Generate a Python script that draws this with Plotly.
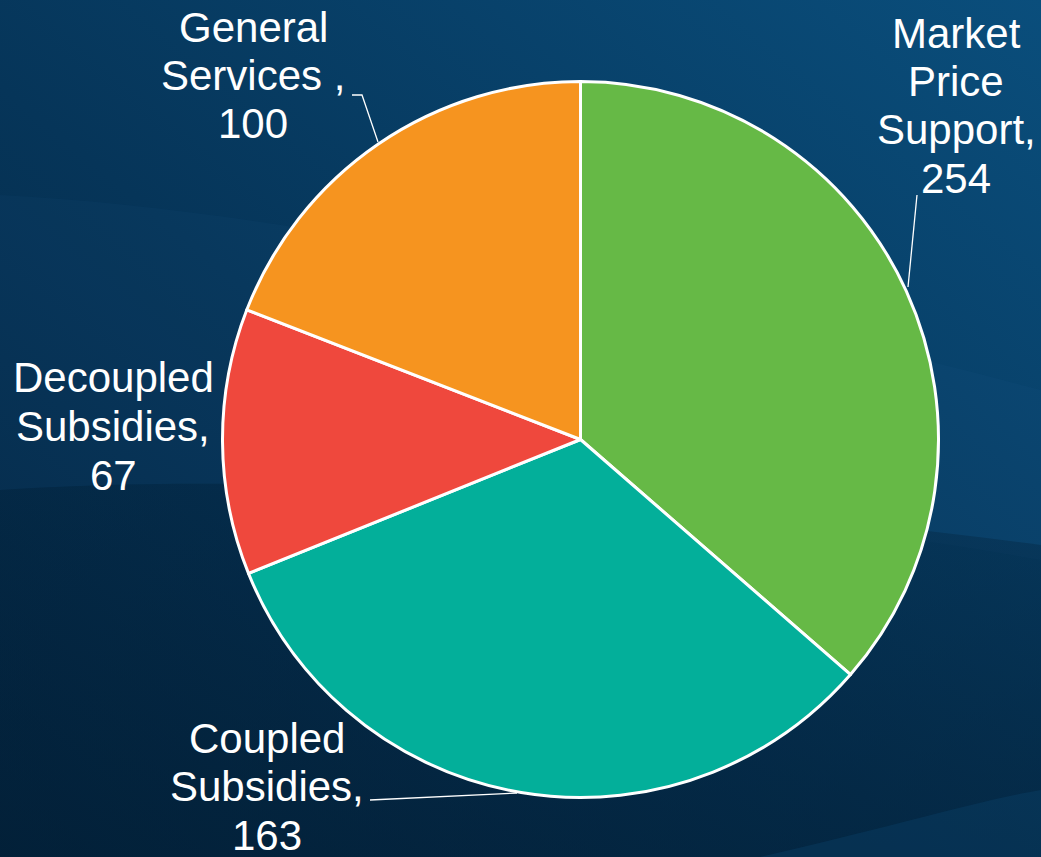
import base64
import plotly.graph_objects as go

# ---- data ----
categories = ["Market Price Support", "Coupled Subsidies", "Decoupled Subsidies", "General Services"]
label_values = [254, 163, 67, 100]            # numbers printed on the labels
slice_shares = [36.4, 32.5, 12.0, 19.1]       # angular share of each slice as drawn (%)
label_lines = [
    ["Market", "Price", "Support,", "254"],
    ["Coupled", "Subsidies,", "163"],
    ["Decoupled", "Subsidies,", "67"],
    ["General", "Services ,", "100"],
]
colors = ["#66B946", "#03AF9A", "#EF483D", "#F6941F"]

W, H = 1041, 857

def px(x, y):
    return x / W, 1 - y / H

# ---- background (SVG gradient as a layout image) ----
svg = f'''<svg xmlns="http://www.w3.org/2000/svg" width="{W}" height="{H}" viewBox="0 0 {W} {H}">
<defs>
<linearGradient id="g" x1="0" y1="1" x2="1" y2="0">
<stop offset="0" stop-color="#03243f"/>
<stop offset="0.45" stop-color="#063559"/>
<stop offset="1" stop-color="#0a4e7c"/>
</linearGradient>
<linearGradient id="d" x1="0" y1="0" x2="0" y2="1">
<stop offset="0" stop-color="#021d33" stop-opacity="0.25"/>
<stop offset="1" stop-color="#021d33" stop-opacity="0.55"/>
</linearGradient>
</defs>
<rect width="{W}" height="{H}" fill="url(#g)"/>
<path d="M0,195 C300,210 700,300 1041,390 L1041,560 C700,500 300,470 0,490 Z" fill="#2a6a98" fill-opacity="0.07"/>
<path d="M0,490 C300,470 700,500 1041,545 L1041,{H} L0,{H} Z" fill="url(#d)"/>
<path d="M760,{H} C880,830 980,800 1041,790 L1041,{H} Z" fill="#0d4a74" fill-opacity="0.3"/>
</svg>'''
src = "data:image/svg+xml;base64," + base64.b64encode(svg.encode()).decode()

# ---- pie geometry ----
cx, cy, r = 580.5, 439.5, 358
fig = go.Figure(go.Pie(
    labels=categories,
    values=slice_shares,
    sort=False,
    direction="clockwise",
    rotation=0,
    marker=dict(colors=colors, line=dict(color="white", width=3)),
    textinfo="none",
    hoverinfo="label",
    customdata=label_values,
    domain=dict(x=[(cx - r) / W, (cx + r) / W], y=[(H - cy - r) / H, (H - cy + r) / H]),
))

# label positions (centre x, first line centre y)
label_pos = [(956, 33), (267, 738), (113, 378), (253, 27)]
line_gap = 48.5
annotations = []
for lines, (lx, ly) in zip(label_lines, label_pos):
    for i, t in enumerate(lines):
        x, y = px(lx, ly + i * line_gap)
        annotations.append(dict(
            x=x, y=y, xref="paper", yref="paper", text=t, showarrow=False,
            xanchor="center", yanchor="middle",
            font=dict(family="Arial, Liberation Sans, sans-serif", size=42, color="white"),
        ))

leaders = [
    [(917, 195), (908, 287)],
    [(370, 800), (517, 793)],
    [(352, 95), (362, 95), (378, 142)],
]
shapes = []
for pts in leaders:
    path = "M" + " L".join(f"{px(x, y)[0]},{px(x, y)[1]}" for x, y in pts)
    shapes.append(dict(type="path", xref="paper", yref="paper", path=path,
                       line=dict(color="white", width=1.3)))

fig.update_layout(
    width=W, height=H,
    margin=dict(l=0, r=0, t=0, b=0),
    showlegend=False,
    paper_bgcolor="#063559",
    plot_bgcolor="rgba(0,0,0,0)",
    images=[dict(source=src, xref="paper", yref="paper", x=0, y=1, sizex=1, sizey=1,
                 xanchor="left", yanchor="top", sizing="stretch", layer="below")],
    annotations=annotations,
    shapes=shapes,
)
fig.write_html("out.html")
